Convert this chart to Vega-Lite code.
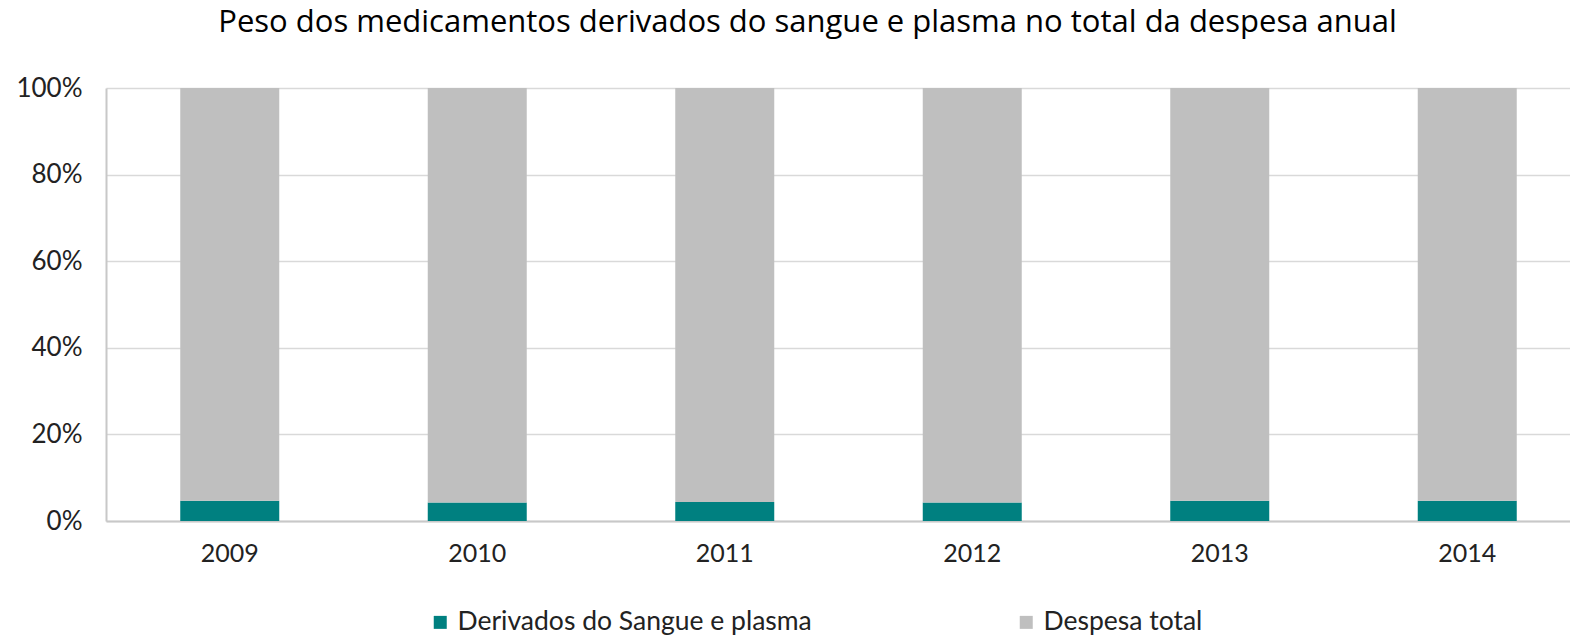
{
  "$schema": "https://vega.github.io/schema/vega-lite/v6.json",
  "autosize": {"type": "none"},
  "width": 1485,
  "height": 433,
  "padding": {"left": 106, "top": 88, "right": 0, "bottom": 116},
  "background": "white",
  "title": {
    "text": "Peso dos medicamentos derivados do sangue e plasma no total da despesa anual",
    "font": "Open Sans",
    "fontSize": 31,
    "fontWeight": "normal",
    "color": "#000000",
    "anchor": "middle",
    "frame": "group",
    "dx": -41,
    "baseline": "alphabetic",
    "offset": 12
  },
  "data": {
    "values": [
      {"ano": "2009", "serie": "Derivados do Sangue e plasma", "ord": 1, "valor": 4.7},
      {"ano": "2009", "serie": "Despesa total", "ord": 2, "valor": 95.3},
      {"ano": "2010", "serie": "Derivados do Sangue e plasma", "ord": 1, "valor": 4.3},
      {"ano": "2010", "serie": "Despesa total", "ord": 2, "valor": 95.7},
      {"ano": "2011", "serie": "Derivados do Sangue e plasma", "ord": 1, "valor": 4.4},
      {"ano": "2011", "serie": "Despesa total", "ord": 2, "valor": 95.6},
      {"ano": "2012", "serie": "Derivados do Sangue e plasma", "ord": 1, "valor": 4.3},
      {"ano": "2012", "serie": "Despesa total", "ord": 2, "valor": 95.7},
      {"ano": "2013", "serie": "Derivados do Sangue e plasma", "ord": 1, "valor": 4.7},
      {"ano": "2013", "serie": "Despesa total", "ord": 2, "valor": 95.3},
      {"ano": "2014", "serie": "Derivados do Sangue e plasma", "ord": 1, "valor": 4.7},
      {"ano": "2014", "serie": "Despesa total", "ord": 2, "valor": 95.3}
    ]
  },
  "mark": {"type": "bar"},
  "encoding": {
    "x": {
      "field": "ano",
      "type": "ordinal",
      "scale": {"paddingInner": 0.6, "paddingOuter": 0.3},
      "axis": {
        "title": null,
        "labelAngle": 0,
        "labelFont": "Lato",
        "labelFontSize": 25,
        "labelColor": "#222222",
        "labelPadding": 20,
        "labelBaseline": "top",
        "ticks": false,
        "domainColor": "#c8c8c8",
        "domainWidth": 2
      }
    },
    "y": {
      "field": "valor",
      "type": "quantitative",
      "stack": "normalize",
      "scale": {"domain": [0, 1], "nice": false},
      "axis": {
        "title": null,
        "format": ".0%",
        "values": [0, 0.2, 0.4, 0.6, 0.8, 1],
        "labelFont": "Lato",
        "labelFontSize": 26,
        "labelColor": "#222222",
        "labelPadding": 24,
        "ticks": false,
        "domainColor": "#c8c8c8",
        "domainWidth": 2,
        "gridColor": "#d9d9d9",
        "gridWidth": 1.5
      }
    },
    "color": {
      "field": "serie",
      "type": "nominal",
      "scale": {
        "domain": ["Derivados do Sangue e plasma", "Despesa total"],
        "range": ["#008080", "#bfbfbf"]
      },
      "legend": {
        "title": null,
        "orient": "none",
        "legendX": 321,
        "legendY": 521,
        "direction": "horizontal",
        "columns": 2,
        "columnPadding": 201,
        "symbolType": "square",
        "symbolSize": 169,
        "symbolStrokeWidth": 0,
        "labelFont": "Lato",
        "labelFontSize": 26.5,
        "labelColor": "#222222",
        "labelOffset": 4,
        "labelLimit": 600
      }
    },
    "order": {"field": "ord", "type": "quantitative"}
  },
  "config": {"view": {"stroke": null}}
}
